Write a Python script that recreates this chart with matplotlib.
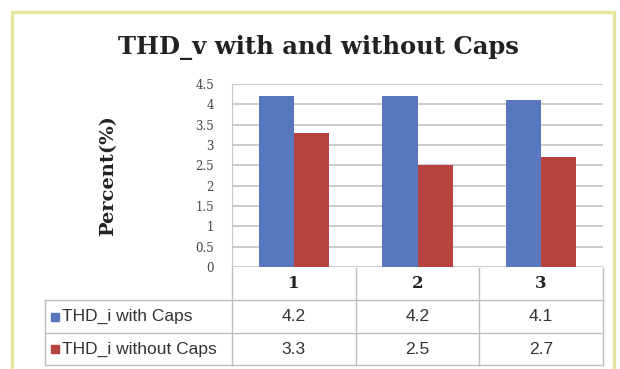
import matplotlib
matplotlib.use("Agg")
import matplotlib.pyplot as plt
from matplotlib.transforms import blended_transform_factory
from matplotlib.patches import Rectangle
import numpy as np

# chart data
categories = ["1", "2", "3"]
series_names = ["THD_i with Caps", "THD_i without Caps"]
with_caps = [4.2, 4.2, 4.1]
without_caps = [3.3, 2.5, 2.7]
yticks = [0, 0.5, 1, 1.5, 2, 2.5, 3, 3.5, 4, 4.5]

blue = "#5877bf"
red = "#b6433f"
grid_col = "#c8c8c8"

W, H = 620, 369
fig = plt.figure(figsize=(W / 100, H / 100), dpi=100)

# pale yellow frame round the chart
fig.patches.append(Rectangle((12 / W, -0.05), 602 / W, 1.05 - 12 / H,
                             transform=fig.transFigure, fill=False,
                             edgecolor="#e6e69a", linewidth=2.5))

ax = fig.add_axes([232 / W, 1 - 267 / H, 371 / W, 183 / H])
x = np.arange(len(categories))
bw = 0.285
ax.bar(x - bw / 2, with_caps, bw, color=blue, zorder=3)
ax.bar(x + bw / 2, without_caps, bw, color=red, zorder=3)

ax.set_xlim(-0.5, len(categories) - 0.5)
ax.set_ylim(0, 4.5)
ax.set_yticks(yticks)
ax.set_yticklabels([f"{t:g}" for t in yticks], family="DejaVu Serif",
                   fontsize=8.5, color="#444444")
ax.set_xticks([])
ax.tick_params(axis="y", length=0, pad=13)
ax.grid(axis="y", color=grid_col, linewidth=1.3, zorder=0)
for s in ["top", "right", "bottom"]:
    ax.spines[s].set_visible(False)
ax.spines["left"].set_color(grid_col)

fig.text(318 / W, 1 - 47 / H, "THD_v with and without Caps", ha="center",
         va="center", family="DejaVu Serif", fontweight="bold", fontsize=17.5,
         color="#222222")
fig.text(108 / W, 1 - 176 / H, "Percent(%)", ha="center", va="center",
         rotation=90, family="DejaVu Serif", fontweight="bold", fontsize=14,
         color="#222222")

# data table under the axis
tr = blended_transform_factory(ax.transData, fig.transFigure)
rows_y = [1 - 268 / H, 1 - 300 / H, 1 - 333 / H, 1 - 365 / H]
left = 45 / W
lc = "#bdbdbd"
bounds = np.arange(len(categories) + 1) - 0.5
for b in bounds:
    ax.plot([b, b], [rows_y[0], rows_y[3]], transform=tr, color=lc,
            lw=1, clip_on=False)
fig.add_artist(plt.Line2D([left, left], [rows_y[1], rows_y[3]], color=lc, lw=1))
for yy in rows_y[1:]:
    fig.add_artist(plt.Line2D([left, 603 / W], [yy, yy], color=lc, lw=1))

for i, c in enumerate(categories):
    ax.text(i, (rows_y[0] + rows_y[1]) / 2, c, transform=tr, ha="center",
            va="center", family="DejaVu Serif", fontweight="bold", fontsize=12,
            color="#222222")

for r, (name, vals, col) in enumerate(zip(series_names,
                                          [with_caps, without_caps],
                                          [blue, red])):
    yc = (rows_y[r + 1] + rows_y[r + 2]) / 2
    fig.patches.append(Rectangle((51 / W, yc - 4 / H), 8 / W, 8 / H,
                                 transform=fig.transFigure, color=col))
    fig.text(62 / W, yc, name, ha="left", va="center",
             family="Liberation Sans", fontsize=12.5, color="#333333")
    for i, v in enumerate(vals):
        ax.text(i, yc, f"{v:g}", transform=tr, ha="center", va="center",
                family="Liberation Sans", fontsize=12.5, color="#333333")

fig.savefig("out.png", dpi=100)
